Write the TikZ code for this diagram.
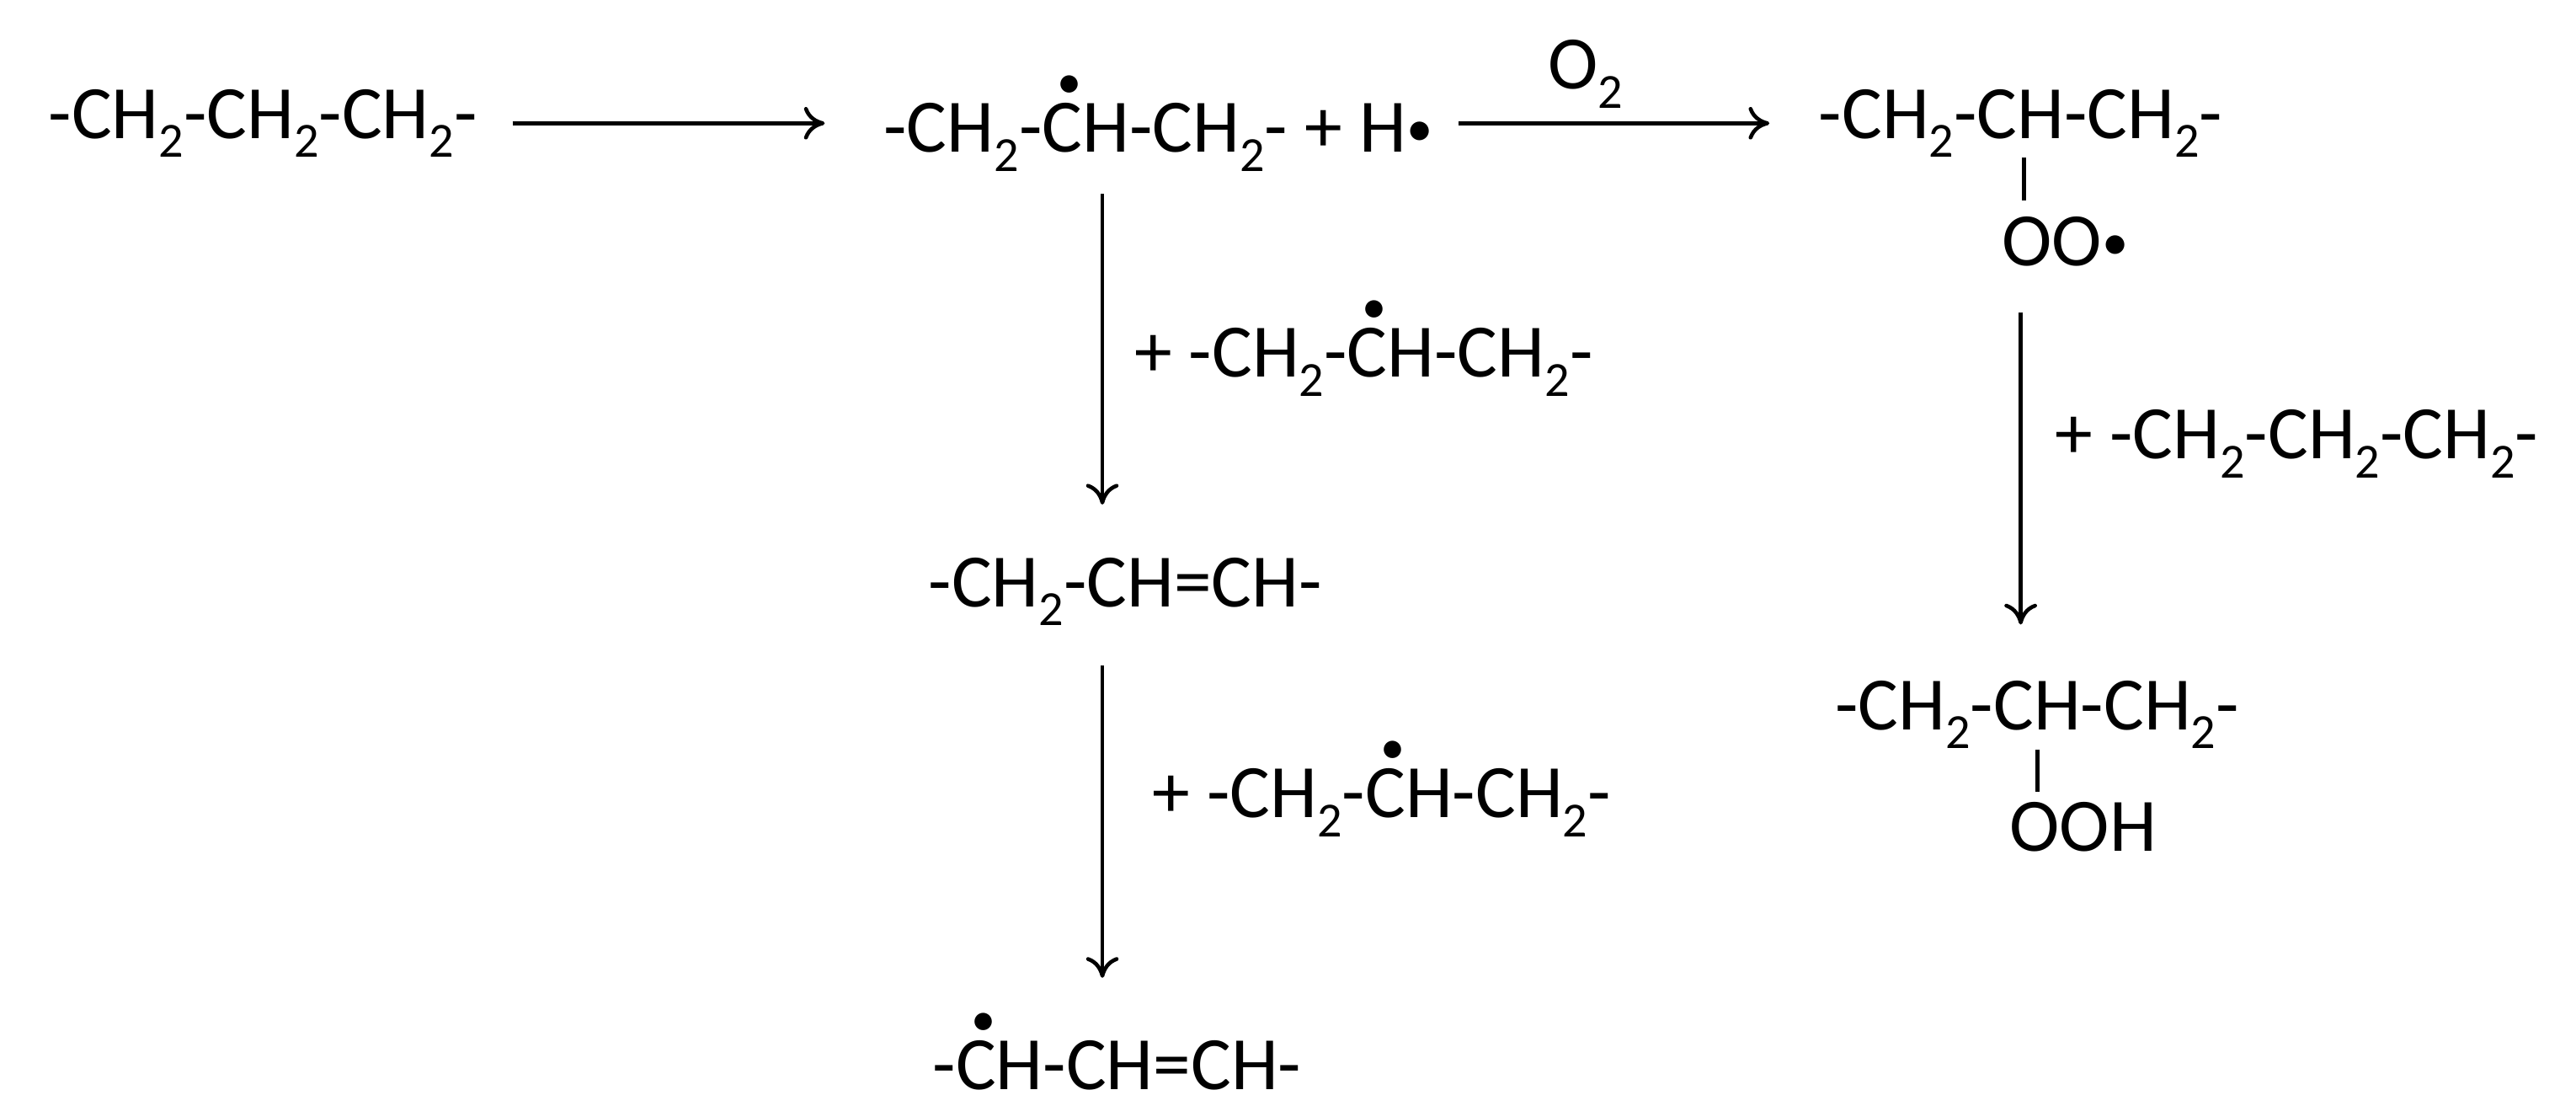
\documentclass[tikz,border=0pt]{standalone}
\usepackage{fontspec}
\setmainfont{Carlito}
\usetikzlibrary{arrows.meta}
\newcommand\rC{\leavevmode\rlap{\hspace{0.2em}\raisebox{0.72em}{\scalebox{0.65}{\textbullet}}}C}
\newcommand\sub[1]{\raisebox{-0.25em}{\scalebox{0.65}{#1}}}
\newcommand\rad{\raisebox{0.08em}{\scalebox{0.7}{\textbullet}}}
\begin{document}
\begin{tikzpicture}[x=0.01951cm,y=-0.01951cm,
  chem/.style={inner sep=0pt,font=\fontsize{25.5}{30}\selectfont},
  arr/.style={line width=1.3pt,-{To[length=7pt,width=11pt,line width=1.3pt]}},
  bond/.style={line width=1.5pt}]
\useasboundingbox (0,0) rectangle (1568,673);
\node[chem] (A) at (160,75) {-CH\sub{2}-CH\sub{2}-CH\sub{2}-};
\node[chem] (B) at (705,75) {-CH\sub{2}-\rC H-CH\sub{2}- + H\rad};
\node[chem] (C) at (1230,75) {-CH\sub{2}-CH-CH\sub{2}-};
\node[chem] (Coo) at (1257,147) {OO\rad};
\node[chem] (O2) at (965,45) {O\sub{2}};
\node[chem] (Lr) at (1398,270) {+ -CH\sub{2}-CH\sub{2}-CH\sub{2}-};
\node[chem] (D) at (1240,435) {-CH\sub{2}-CH-CH\sub{2}-};
\node[chem] (Doo) at (1268,503) {OOH};
\node[chem] (L1) at (830,212) {+ -CH\sub{2}-\rC H-CH\sub{2}-};
\node[chem] (E) at (685,360) {-CH\sub{2}-CH=CH-};
\node[chem] (L2) at (841,480) {+ -CH\sub{2}-\rC H-CH\sub{2}-};
\node[chem] (F) at (680,640) {-\rC H-CH=CH-};
\coordinate (a1) at (312,75); \coordinate (a2) at (502,75);
\coordinate (b1) at (888,75); \coordinate (b2) at (1077,75);
\coordinate (c1) at (1230,190); \coordinate (c2) at (1230,380);
\coordinate (d1) at (671,118); \coordinate (d2) at (671,307);
\coordinate (e1) at (671,405); \coordinate (e2) at (671,595);
\coordinate (k1) at (1232,96); \coordinate (k2) at (1232,122);
\coordinate (m1) at (1240,456); \coordinate (m2) at (1240,482);
\draw[arr] (a1) -- (a2);
\draw[arr] (b1) -- (b2);
\draw[arr] (c1) -- (c2);
\draw[arr] (d1) -- (d2);
\draw[arr] (e1) -- (e2);
\draw[bond] (k1) -- (k2);
\draw[bond] (m1) -- (m2);
\end{tikzpicture}
\end{document}
